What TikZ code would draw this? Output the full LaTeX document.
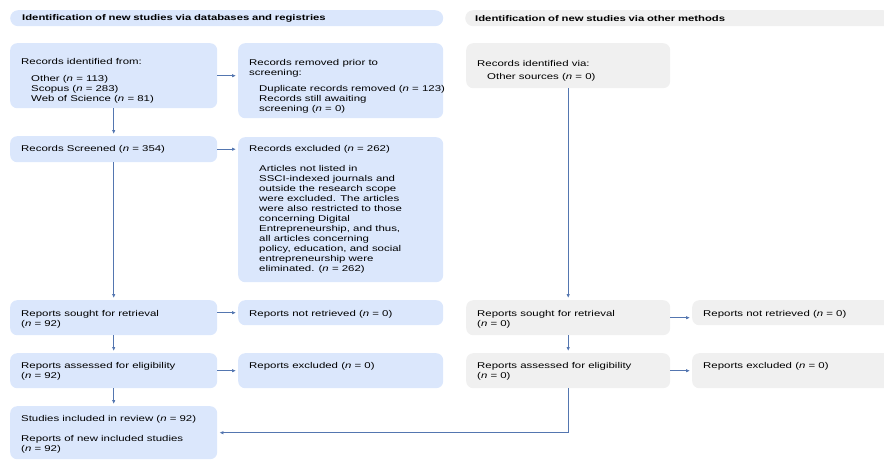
\documentclass[tikz,border=0pt]{standalone}
\usepackage{fontspec}
\setmainfont{Liberation Sans}[FakeStretch=1.36]
\usetikzlibrary{arrows.meta, positioning, calc}
\definecolor{dbblue}{RGB}{219,231,252}
\definecolor{otgray}{RGB}{240,240,240}
\definecolor{flowblue}{RGB}{84,118,176}
\newcommand{\nn}{\textit{n}}
% box text: width, height, top gap, content
\newcommand{\boxtext}[4]{\parbox[c][#2][t]{#1}{\raggedright\leftskip=11pt\rightskip=-30pt plus 1fil\vspace*{#3}#4\par}}
% indented block of lines
\newcommand{\subitems}[2]{\par\vspace{#1}{\leftskip=21pt #2\par}}
\tikzset{
    dbbox/.style = {fill=dbblue, rounded corners=7pt, anchor=north west, inner sep=0pt},
    otbox/.style = {dbbox, fill=otgray},
    hdrbar/.style = {rounded corners=8pt, anchor=north west, inner xsep=12pt, inner ysep=0pt, minimum height=16pt, align=left, font=\fontsize{8.3}{10}\selectfont\bfseries},
    flow/.style = {-{Latex[length=4pt, width=3.5pt]}, draw=flowblue, line width=0.8pt, shorten >=2pt}
}

\begin{document}
\begin{tikzpicture}[x=1pt, y=-1pt, every node/.style={font=\fontsize{8.4}{10}\selectfont}]
\useasboundingbox (0,0) rectangle (884,459);

% Headers
\node[hdrbar, fill=dbblue, text width=409pt] (hdrdb) at (10,10) {Identification of new studies via databases and registries};
\node[hdrbar, fill=otgray, text width=406pt, inner xsep=10pt] (hdrot) at (465,10) {Identification of new studies via other methods};

% Databases: left column
\node[dbbox] (ident) at (10,43) {\boxtext{207pt}{65pt}{15pt}{Records identified from:\subitems{7pt}{Other (\nn{} = 113)\\Scopus (\nn{} = 283)\\Web of Science (\nn{} = 81)}}};
\node[dbbox] (screen) at (10,136) {\boxtext{207pt}{26pt}{9pt}{Records Screened (\nn{} = 354)}};
\node[dbbox] (sought) at (10,300) {\boxtext{207pt}{35pt}{10pt}{Reports sought for retrieval\\(\nn{} = 92)}};
\node[dbbox] (assess) at (10,353) {\boxtext{207pt}{35pt}{9pt}{Reports assessed for eligibility\\(\nn{} = 92)}};
\node[dbbox] (incl) at (10,406) {\boxtext{207pt}{53pt}{9pt}{Studies included in review (\nn{} = 92)\par\vspace{10pt}Reports of new included studies\\(\nn{} = 92)}};

% Databases: right column
\node[dbbox] (removed) at (238,43) {\boxtext{205pt}{75pt}{16pt}{Records removed prior to\\screening:\subitems{6pt}{Duplicate records removed (\nn{} = 123)\\Records still awaiting\\screening (\nn{} = 0)}}};
\node[dbbox] (excl) at (238,137) {\boxtext{205pt}{145pt}{8pt}{Records excluded (\nn{} = 262)\subitems{10pt}{Articles not listed in\\SSCI-indexed journals and\\outside the research scope\\were excluded. The articles\\were also restricted to those\\concerning Digital\\Entrepreneurship, and thus,\\all articles concerning\\policy, education, and social\\entrepreneurship were\\eliminated. (\nn{} = 262)}}};
\node[dbbox] (notret) at (238,300) {\boxtext{205pt}{25pt}{10pt}{Reports not retrieved (\nn{} = 0)}};
\node[dbbox] (repexcl) at (238,353) {\boxtext{205pt}{35pt}{9pt}{Reports excluded (\nn{} = 0)}};

% Other methods
\node[otbox] (oident) at (466,43) {\boxtext{204pt}{45pt}{17pt}{Records identified via:\subitems{3pt}{Other sources (\nn{} = 0)}}};
\node[otbox] (osought) at (466,300) {\boxtext{204pt}{35pt}{10pt}{Reports sought for retrieval\\(\nn{} = 0)}};
\node[otbox] (oassess) at (466,353) {\boxtext{204pt}{35pt}{9pt}{Reports assessed for eligibility\\(\nn{} = 0)}};
\node[otbox] (onotret) at (692,300) {\boxtext{200pt}{25pt}{10pt}{Reports not retrieved (\nn{} = 0)}};
\node[otbox] (orepexcl) at (692,353) {\boxtext{200pt}{35pt}{9pt}{Reports excluded (\nn{} = 0)}};

% Main flow
\draw[flow] (ident) -- (screen);
\draw[flow] (screen) -- (sought);
\draw[flow] (sought) -- (assess);
\draw[flow] (assess) -- (incl);

% Side exits
\draw[flow] (ident.east) -- (ident.east -| removed.west);
\draw[flow] (screen.east) -- (screen.east -| excl.west);
\draw[flow] (notret.west -| sought.east) -- (notret.west);
\draw[flow] (assess.east) -- (assess.east -| repexcl.west);

% Other methods flow
\draw[flow] (oident) -- (osought);
\draw[flow] (osought) -- (oassess);
\draw[flow] (osought.east) -- (osought.east -| onotret.west);
\draw[flow] (oassess.east) -- (orepexcl.west);
\draw[flow] (oassess.south) |- (incl.east);
\end{tikzpicture}
\end{document}
